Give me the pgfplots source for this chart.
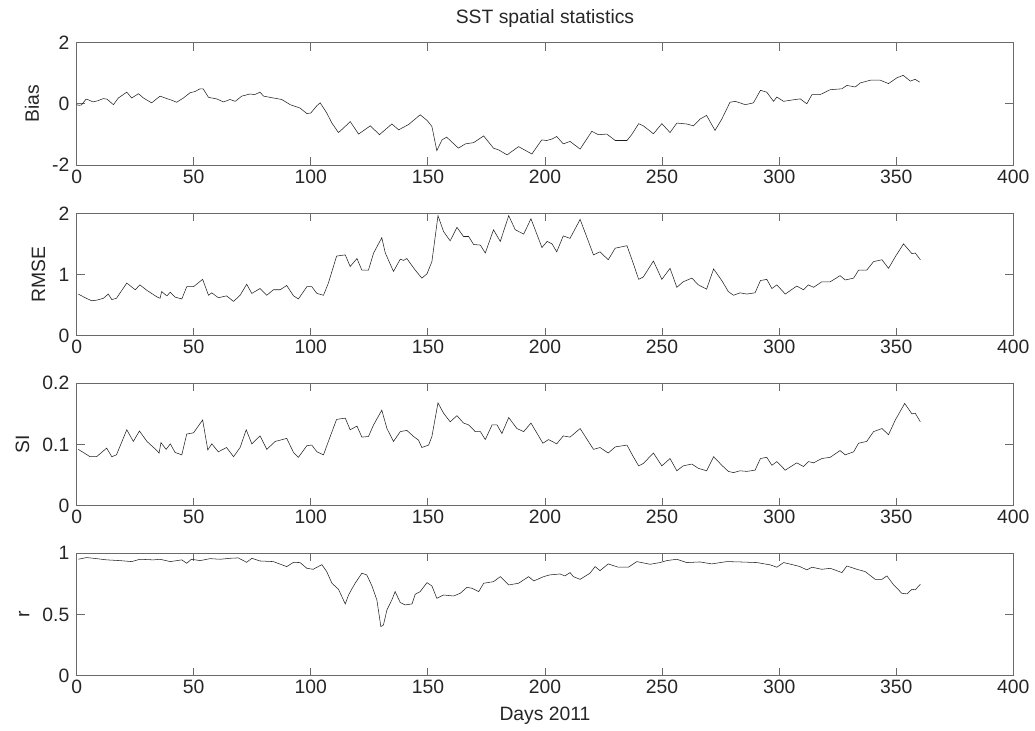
\documentclass[border=0pt]{standalone}
\usepackage{fontspec}
\setmainfont{Liberation Sans}
\usepackage{pgfplots}
\pgfplotsset{compat=1.18}
\definecolor{axcol}{HTML}{6A6A6A}
\definecolor{txtcol}{HTML}{262626}
\definecolor{linecol}{HTML}{1E1E1E}
\newcommand{\mf}{\fontsize{14.5}{17}\selectfont}
\pgfplotsset{
  panel/.style={
    scale only axis, width=702.5pt, height=91.8pt,
    anchor=south west,
    xmin=0, xmax=400, xtick={0,50,...,400},
    tick align=inside, major tick length=6pt,
    axis line style={draw=axcol, line width=0.7pt},
    tick style={draw=axcol, line width=0.7pt},
    ticklabel style={font=\mf, text=txtcol},
    yticklabel style={xshift=-2pt},
    label style={font=\mf, text=txtcol},
    ylabel shift=3pt, xlabel shift=3pt,
    /pgf/number format/assume math mode=true,
    cycle list={{linecol, line width=0.8pt, mark=none}},
  }
}
\begin{document}
\begin{tikzpicture}
\useasboundingbox (0,0) rectangle (776.25pt,548.25pt);
% Bias
\begin{axis}[panel, at={(57.5pt,424.5pt)}, ymin=-2, ymax=2, ytick={-2,0,2}, ylabel={Bias},
  title={SST spatial statistics}, title style={font=\mf, text=txtcol, yshift=2pt}]
\addplot coordinates {
(0,-0.03) (1,-0.05) (2,-0.04) (4,0.15) (5,0.13) (7,0.06) (9,0.1) (11.4,0.17) (13,0.15) (15.7,-0.03)
(17.8,0.19) (19.5,0.28) (21.4,0.38) (23.5,0.19) (26.4,0.33) (28.5,0.19) (32,0.03) (35.6,0.25) (38.5,0.17)
(40.5,0.12) (42.7,0.05) (45.6,0.19) (48.4,0.36) (50.5,0.4) (52.7,0.49) (54,0.49) (56.3,0.21) (59.8,0.16)
(62.7,0.06) (65.5,0.14) (67.7,0.08) (70.5,0.25) (74,0.32) (76,0.3) (78.3,0.38) (79.8,0.25) (84,0.19)
(87.6,0.14) (91.2,-0.03) (95.4,-0.14) (98.3,-0.32) (100,-0.30) (102.6,-0.06) (104,0.03) (106.8,-0.30)
(109,-0.63) (111.8,-0.94) (114,-0.79) (116.8,-0.58) (120.4,-0.99) (125.4,-0.72) (129.3,-1.01) (134.6,-0.66)
(137.5,-0.85) (141.7,-0.68) (146.7,-0.36) (149.6,-0.54) (151.7,-0.74) (153.8,-1.53) (156,-1.18) (158,-1.09)
(163,-1.45) (166,-1.31) (169.5,-1.27) (173.8,-1.05) (178,-1.45) (180.3,-1.51) (183.8,-1.67) (188.7,-1.40)
(194.4,-1.64) (198.6,-1.18) (200.7,-1.2) (203,-1.15) (205,-1.07) (207.8,-1.31) (210.7,-1.23) (215,-1.48)
(220,-0.9) (222.8,-1.01) (226.4,-0.99) (230,-1.2) (235,-1.2) (237,-1.01) (240,-0.65) (242,-0.72)
(246.3,-0.98) (249.9,-0.65) (253.4,-0.94) (256.3,-0.63) (260.5,-0.66) (263.4,-0.72) (266.2,-0.5) (269,-0.38)
(272.6,-0.87) (275.5,-0.5) (279,0.05) (281.2,0.08) (283.3,0.03) (285.5,-0.03) (289,0.03) (292,0.44)
(294.7,0.38) (297.6,0.08) (299,0.22) (301.9,0.08) (306,0.13) (309,0.16) (311.8,0) (314,0.3) (317.5,0.3)
(321.8,0.46) (326.8,0.49) (328.9,0.6) (332.5,0.55) (334.6,0.68) (338.9,0.77) (343.2,0.77) (346.7,0.66)
(350.3,0.85) (353,0.93) (356,0.74) (358,0.8) (360,0.71)
};
\end{axis}
% RMSE
\begin{axis}[panel, at={(57.5pt,296.5pt)}, ymin=0, ymax=2, ytick={0,1,2}, ylabel={RMSE}]
\addplot coordinates {
(0.7,0.68) (3.6,0.62) (6.4,0.57) (8.5,0.58) (11.4,0.61) (13.5,0.68) (15,0.59) (17,0.61) (21.4,0.86)
(25,0.75) (27,0.83) (30,0.74) (34,0.64) (35.6,0.61) (36.3,0.72) (38.5,0.65) (40,0.71) (42,0.63) (44.9,0.6)
(47,0.8) (49.9,0.8) (53.8,0.92) (56.3,0.66) (57.7,0.7) (60.5,0.62) (64,0.65) (67,0.56) (69.8,0.66)
(72.6,0.84) (74.8,0.69) (78.3,0.77) (81.2,0.66) (84,0.75) (86.9,0.75) (89.7,0.82) (92.6,0.65) (94.7,0.6)
(98.3,0.8) (100.4,0.8) (102.6,0.69) (105.4,0.66) (107.5,0.86) (111,1.3) (114.7,1.32) (116.8,1.13)
(119.7,1.26) (121.8,1.07) (124.6,1.07) (126.8,1.35) (130.3,1.6) (131.8,1.35) (135.3,1.05) (138.2,1.25)
(139.6,1.23) (141,1.26) (144.6,1.07) (147.4,0.94) (149.6,1.01) (151.7,1.21) (154.3,1.96) (156.7,1.7)
(159.5,1.55) (162.4,1.77) (165.2,1.62) (167.4,1.62) (169.5,1.49) (172.4,1.48) (174.5,1.35) (178,1.73)
(180.9,1.54) (184.5,1.96) (187.3,1.73) (190.9,1.66) (194,1.91) (198.7,1.44) (200.9,1.54) (203,1.5)
(205,1.37) (207.8,1.63) (210.7,1.59) (215,1.9) (220.7,1.32) (223.5,1.37) (227,1.24) (230,1.43)
(235,1.47) (237.7,1.18) (240,0.92) (242,0.96) (246.3,1.22) (249.9,0.92) (253.4,1.1) (256.3,0.79)
(259,0.88) (262.7,0.94) (265.5,0.83) (269,0.76) (272,1.09) (275.5,0.9) (278.3,0.72) (280.5,0.66)
(283.3,0.7) (286.2,0.68) (289.7,0.7) (292,0.9) (294.7,0.92) (296.9,0.77) (299,0.83) (302.6,0.68)
(307.5,0.81) (310.4,0.75) (312.5,0.83) (314.7,0.79) (318.2,0.88) (321.8,0.88) (326,0.98) (328.2,0.91)
(331.8,0.94) (333.9,1.07) (337.4,1.07) (340.3,1.21) (343.9,1.24) (346.7,1.1) (349.6,1.29) (353.1,1.5)
(356.7,1.34) (358.1,1.35) (360.3,1.24)
};
\end{axis}
% SI
\begin{axis}[panel, at={(57.5pt,169pt)}, ymin=0, ymax=0.2, ytick={0,0.1,0.2}, ylabel={SI}]
\addplot coordinates {
(0.7,0.092) (2.8,0.087) (5.7,0.080) (8.5,0.080) (12.8,0.094) (15,0.080) (17,0.083) (21.4,0.124)
(24.2,0.105) (26.8,0.122) (30,0.105) (34,0.091) (35.2,0.086) (36,0.103) (38.2,0.092) (40,0.101)
(42,0.087) (44.9,0.083) (47,0.117) (49.9,0.119) (53.8,0.140) (56,0.091) (57.7,0.101) (60.5,0.088)
(64,0.095) (67,0.080) (69.8,0.095) (72.4,0.124) (74.8,0.101) (78.3,0.114) (81.2,0.092) (84.8,0.105)
(86.9,0.107) (89.7,0.110) (92.6,0.087) (94.7,0.079) (98.3,0.098) (100.4,0.099) (102.6,0.088)
(105.4,0.083) (107.5,0.105) (111,0.141) (114.7,0.143) (116.8,0.124) (119.7,0.130) (121.8,0.112)
(124.6,0.113) (126.8,0.132) (130.3,0.156) (132.5,0.126) (135.3,0.105) (138.2,0.121) (141,0.123)
(143.9,0.113) (146,0.107) (147.4,0.095) (150.3,0.099) (151.7,0.113) (154.3,0.168) (156.7,0.151)
(159.5,0.137) (162.4,0.147) (165.2,0.135) (167.4,0.132) (170.2,0.121) (172.4,0.121) (174.5,0.108)
(177.4,0.132) (179.5,0.132) (181.6,0.118) (184.5,0.144) (188,0.126) (190.9,0.121) (194,0.135)
(199.1,0.102) (201.5,0.108) (205,0.101) (207.8,0.114) (210.7,0.112) (215,0.126) (220.7,0.092)
(223.5,0.095) (227,0.086) (230,0.096) (235,0.099) (237.7,0.080) (240,0.065) (242,0.069) (246.3,0.086)
(249.9,0.065) (253.4,0.077) (256.3,0.057) (259,0.065) (262.7,0.068) (265.5,0.061) (269,0.057)
(272,0.080) (275.5,0.066) (278.3,0.056) (280.5,0.054) (283.3,0.057) (286.2,0.056) (289.7,0.058)
(292,0.077) (294.7,0.079) (296.9,0.066) (299,0.072) (302.6,0.058) (307.5,0.070) (310.4,0.064)
(312.5,0.072) (314.7,0.070) (318.2,0.077) (321.8,0.079) (326,0.090) (328.2,0.083) (331.8,0.088)
(333.9,0.102) (337.4,0.105) (340.3,0.121) (343.9,0.126) (346.7,0.116) (349.6,0.140) (353.6,0.167)
(356.7,0.150) (358.1,0.151) (360.3,0.137)
};
\end{axis}
% r
\begin{axis}[panel, at={(57.5pt,41.5pt)}, ymin=0, ymax=1, ytick={0,0.5,1}, ylabel={r}, xlabel={Days 2011}]
\addplot coordinates {
(0.7,0.951) (4.3,0.965) (8.5,0.956) (12.8,0.946) (18.5,0.940) (23.5,0.932) (27,0.951) (32.8,0.946)
(35.6,0.951) (40,0.932) (44.9,0.946) (47,0.918) (49,0.951) (52.7,0.940) (57,0.956) (61.3,0.951)
(65.5,0.959) (69,0.962) (72.6,0.926) (74.8,0.959) (78.3,0.937) (84,0.932) (89.7,0.891) (92.6,0.926)
(95.4,0.924) (98.3,0.877) (101,0.869) (104.7,0.907) (106.8,0.850) (109,0.755) (111.8,0.706)
(114.7,0.586) (116.1,0.659) (118.9,0.755) (121.8,0.837) (123.9,0.823) (126.1,0.733) (128.2,0.619)
(129.9,0.401) (131,0.414) (132.5,0.537) (134.6,0.619) (136,0.687) (138.2,0.597) (140.3,0.578)
(143.2,0.586) (144.6,0.665) (146.7,0.687) (149.6,0.760) (151.7,0.733) (153.8,0.632) (156.7,0.659)
(161,0.651) (163.8,0.673) (166.7,0.722) (168.8,0.714) (171.7,0.687) (173.8,0.755) (178,0.768)
(180.9,0.809) (184.5,0.741) (188.7,0.755) (193,0.809) (195.2,0.774) (199.4,0.809) (202,0.823)
(206.4,0.831) (208.5,0.815) (210.7,0.842) (212.1,0.809) (215,0.787) (219.2,0.837) (221.4,0.891)
(223.5,0.858) (227,0.913) (231.3,0.886) (235.6,0.886) (239.2,0.932) (244.9,0.910) (249.1,0.924)
(252,0.940) (256.3,0.951) (260.5,0.924) (266.2,0.929) (271.2,0.913) (277.6,0.932) (283.3,0.929)
(290.5,0.924) (296.2,0.905) (299,0.886) (301.9,0.924) (306.1,0.905) (308.9,0.891) (311.8,0.864)
(314,0.886) (318.2,0.869) (321.8,0.877) (324.6,0.858) (326.8,0.842) (328.9,0.896) (333.2,0.869)
(336.8,0.850) (341,0.787) (343.9,0.787) (346,0.815) (348.9,0.741) (352.4,0.673) (354.6,0.668)
(356.7,0.706) (358.1,0.701) (360.3,0.747)
};
\end{axis}
\end{tikzpicture}
\end{document}
